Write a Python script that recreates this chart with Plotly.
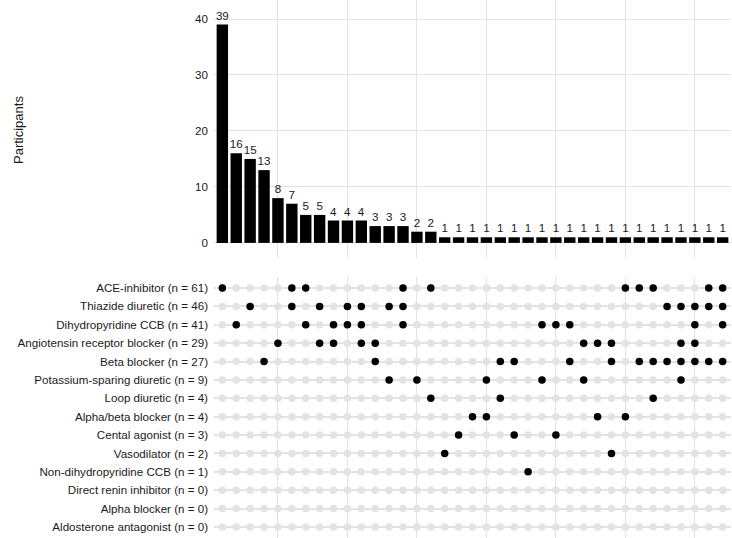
import plotly.graph_objects as go

categories = [
    "ACE-inhibitor (n = 61)",
    "Thiazide diuretic (n = 46)",
    "Dihydropyridine CCB (n = 41)",
    "Angiotensin receptor blocker (n = 29)",
    "Beta blocker (n = 27)",
    "Potassium-sparing diuretic (n = 9)",
    "Loop diuretic (n = 4)",
    "Alpha/beta blocker (n = 4)",
    "Cental agonist (n = 3)",
    "Vasodilator (n = 2)",
    "Non-dihydropyridine CCB (n = 1)",
    "Direct renin inhibitor (n = 0)",
    "Alpha blocker (n = 0)",
    "Aldosterone antagonist (n = 0)",
]

bar_values = [39, 16, 15, 13, 8, 7, 5, 5, 4, 4, 4, 3, 3, 3, 2, 2] + [1] * 21

# members of each intersection column (row indices into categories)
memberships = [
    [0], [2], [1], [4], [3], [0, 1], [0, 2], [1, 3], [2, 3], [1, 2],
    [1, 2, 3], [3, 4], [1, 5], [0, 1, 2], [5], [0, 6], [9], [8], [7],
    [5, 7], [4, 6], [4, 8], [10], [2, 5], [2, 8], [2, 4], [3, 5], [3, 7],
    [3, 4, 9], [0, 7], [0, 4], [0, 4, 6], [1, 4], [1, 3, 4, 5], [1, 2, 3, 4],
    [0, 1, 4], [0, 1, 2, 4],
]

ncol = len(bar_values)
nrow = len(categories)
cols = list(range(ncol))
grid_x = [4, 9, 14, 19, 24, 29, 34]

W, H = 732, 538
L, R = 214, 1

fig = go.Figure()

fig.add_trace(go.Bar(
    x=cols, y=bar_values, width=0.82, marker=dict(color="black", line=dict(width=0)),
    text=[str(v) for v in bar_values], textposition="outside", constraintext="none",
    textfont=dict(size=11.6, color="#1a1a1a"), cliponaxis=False,
    xaxis="x", yaxis="y", showlegend=False,
))

gx, gy = [], []
for c in cols:
    for r in range(nrow):
        gx.append(c)
        gy.append(r)
fig.add_trace(go.Scatter(
    x=gx, y=gy, mode="markers", marker=dict(size=7.5, color="#e3e3e3"),
    xaxis="x2", yaxis="y2", showlegend=False, hoverinfo="skip",
))

bx, by = [], []
for c, mem in enumerate(memberships):
    for r in mem:
        bx.append(c)
        by.append(r)
fig.add_trace(go.Scatter(
    x=bx, y=by, mode="markers", marker=dict(size=7.5, color="black"),
    xaxis="x2", yaxis="y2", showlegend=False,
))

font_family = "Liberation Sans, Arial, sans-serif"
grid_col = "#e3e3e3"

fig.update_layout(
    width=W, height=H,
    margin=dict(l=L, r=R, t=0, b=0, autoexpand=False),
    paper_bgcolor="white", plot_bgcolor="white",
    font=dict(family=font_family, size=11.6, color="#1a1a1a"),
    xaxis=dict(domain=[0, 1], range=[-0.6, ncol - 0.4], tickvals=grid_x,
               showticklabels=False, showgrid=True, gridcolor=grid_col, gridwidth=1,
               zeroline=False, ticks="", anchor="y", automargin=False),
    yaxis=dict(domain=[1 - 258 / H, 1], range=[-2.7, 43.4], tickvals=[0, 10, 20, 30, 40],
               showgrid=True, gridcolor=grid_col, gridwidth=1, zeroline=False, ticks="",
               tickfont=dict(size=11.6, color="#1a1a1a"), anchor="x", automargin=False,
               ticklabelstandoff=5),
    xaxis2=dict(domain=[0, 1], range=[-0.6, ncol - 0.4], tickvals=grid_x,
                showticklabels=False, showgrid=True, gridcolor=grid_col, gridwidth=1,
                zeroline=False, ticks="", anchor="y2", automargin=False),
    yaxis2=dict(domain=[0, 1 - 277 / H], range=[nrow - 0.4, -0.6],
                tickvals=list(range(nrow)), ticktext=categories,
                showgrid=True, gridcolor=grid_col, gridwidth=1.5, zeroline=False, ticks="",
                tickfont=dict(size=11.6, color="#1a1a1a"), anchor="x2", automargin=False,
                ticklabelstandoff=5),
    annotations=[dict(
        text="Participants", xref="paper", yref="paper",
        x=(18 - L) / (W - L - R), y=1 - 130 / H, xanchor="center", yanchor="middle",
        showarrow=False, textangle=-90, font=dict(size=13, color="#1a1a1a"),
    )],
)

fig.write_html("out.html", config={"displayModeBar": False},
               post_script="document.body.style.margin='0';document.body.style.overflow='hidden';")
